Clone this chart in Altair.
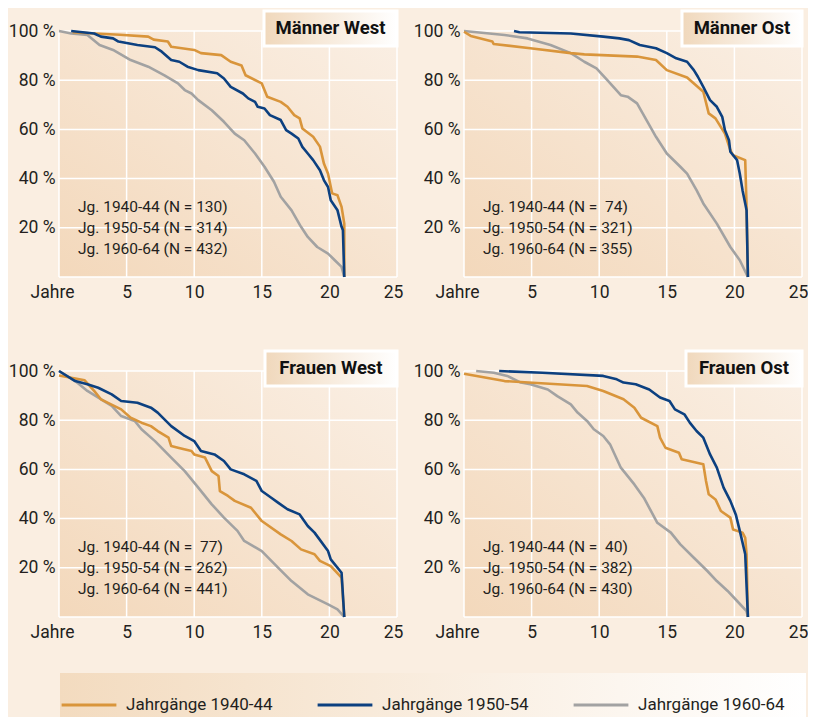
import altair as alt
import pandas as pd

# ---------------- data ----------------
cohorts = ["Jahrgänge 1940-44", "Jahrgänge 1950-54", "Jahrgänge 1960-64"]
colors = ["#D9953B", "#0C4080", "#A2A2A2"]

mw40_x = [1.0, 2.6, 4.5, 6.6, 7.0, 8.05, 8.3, 10.0, 10.5, 12.0, 12.7, 13.5, 13.8, 15.0, 15.4, 16.4, 16.9, 17.4, 17.8, 18.0, 18.8, 19.3, 19.6, 19.9, 20.2, 20.6, 20.9, 21.1, 21.1]
mw40_y = [99.5, 99.0, 98.5, 97.7, 96.5, 95.7, 93.6, 92.3, 91.0, 90.2, 87.5, 86.0, 82.0, 78.7, 73.3, 71.2, 69.2, 65.8, 64.5, 60.4, 57.0, 53.0, 46.0, 42.0, 34.0, 33.2, 28.5, 21.7, 0]
mw50_x = [0.9, 2.6, 3.1, 4.0, 4.4, 5.8, 7.1, 7.6, 8.3, 8.9, 9.5, 10.3, 11.7, 12.2, 12.7, 13.6, 14.0, 14.5, 14.7, 15.2, 15.6, 16.4, 16.8, 17.2, 17.7, 18.0, 18.4, 18.8, 19.3, 19.6, 19.9, 20.1, 20.6, 20.9, 21.0, 21.1]
mw50_y = [100, 99, 97.7, 97, 95.7, 94.3, 93.4, 91.6, 88.2, 87.5, 85.5, 84.1, 82.8, 80.7, 77.3, 74.6, 72.6, 71.2, 69.2, 68.5, 65.8, 63.8, 59.7, 58.3, 56.3, 52.9, 50.2, 47.5, 43.4, 39.3, 36.6, 31.2, 27.1, 20.4, 19.0, 0]
mw60_x = [0, 0.9, 2.1, 3.0, 4.0, 5.3, 6.6, 7.8, 8.8, 9.3, 9.8, 10.3, 11.3, 12.2, 13.0, 13.7, 14.5, 15.2, 15.9, 16.4, 17.2, 17.9, 18.4, 19.1, 19.9, 20.4, 20.9, 21.1]
mw60_y = [100, 99, 98.4, 94.3, 92.3, 88.2, 85.5, 82, 78.7, 76, 74.6, 71.9, 67.8, 63.1, 58.3, 55.6, 50.2, 44.8, 38.7, 32.6, 27.1, 20.4, 16.3, 12.2, 9.5, 6.8, 4.1, 0]

mo40_x = [0, 0.5, 2.1, 2.2, 4.9, 7.9, 8.9, 12.8, 14.2, 15.0, 16.5, 17.7, 18.1, 18.6, 19.3, 19.7, 19.9, 20.8, 20.9, 21.0]
mo40_y = [99.7, 98, 95.7, 94.7, 93, 91, 90.5, 89.6, 88.2, 84.1, 81.1, 75.3, 66.5, 64.5, 58.3, 51.6, 49.5, 47.5, 28.5, 0]
mo50_x = [3.7, 4.1, 7.9, 10.3, 11.5, 12.2, 13.0, 14.2, 15.0, 15.7, 16.5, 17.0, 17.3, 17.7, 18.2, 18.7, 19.1, 19.3, 19.6, 19.7, 20.2, 20.4, 20.6, 20.8, 20.9, 21.0]
mo50_y = [100, 99.5, 99, 97.7, 97, 96.3, 94.3, 93, 91, 88.9, 87.5, 84.1, 81.4, 77.3, 71.9, 69.2, 65.1, 59.7, 55.6, 50.9, 47.5, 42, 35.3, 29.9, 27.1, 0]
mo60_x = [0, 3.0, 4.7, 6.4, 7.9, 8.9, 9.8, 10.6, 11.6, 12.1, 12.8, 13.5, 14.2, 15.0, 16.0, 16.5, 17.2, 17.7, 18.7, 19.7, 20.4, 21.0]
mo60_y = [100, 98.4, 97, 94.3, 91, 87.5, 84.8, 80, 73.9, 73.3, 70.6, 63.8, 57, 50.2, 44.8, 42, 35.3, 29.9, 21.7, 12.2, 6.8, 0]

fw40_x = [0, 1.9, 2.6, 3.1, 4.6, 5.3, 6.1, 6.8, 7.3, 8.1, 8.3, 8.8, 9.8, 10.0, 10.8, 11.3, 11.8, 11.9, 12.5, 13.0, 14.2, 15.0, 16.4, 17.2, 17.9, 18.9, 19.3, 20.1, 20.9, 21.1]
fw40_y = [98.2, 96.2, 91.9, 88.5, 84.4, 81, 79, 77.6, 75.6, 72.9, 69.5, 68.8, 67.5, 66.1, 64.8, 59.3, 57.3, 51.2, 49.2, 47.2, 44.4, 39, 33.6, 30.9, 27.5, 25.5, 22.8, 20.7, 16, 0]
fw50_x = [0, 1.2, 2.1, 2.9, 3.9, 4.6, 5.8, 6.8, 7.3, 8.3, 9.3, 10.0, 10.5, 11.5, 12.2, 12.7, 13.7, 14.6, 15.0, 15.7, 16.2, 16.9, 17.8, 18.4, 18.9, 19.9, 20.1, 20.9, 21.1]
fw50_y = [100, 95.9, 94.6, 93.2, 90.5, 87.8, 87.1, 85.1, 83.1, 77.6, 73.6, 71.5, 67.5, 66.1, 63.4, 60, 58, 55.3, 51.2, 48.5, 46.5, 43.8, 41.7, 37, 34.3, 26.8, 23.4, 18, 0]
fw60_x = [0, 1.2, 2.1, 3.9, 4.6, 5.6, 6.1, 7.1, 8.3, 9.3, 10.3, 11.3, 12.2, 13.2, 13.7, 15.0, 16.2, 17.2, 18.4, 19.9, 20.6, 21.1]
fw60_y = [100, 95.9, 91.9, 85.8, 81.7, 79.7, 76.3, 71.5, 64.8, 59.3, 52.6, 45.8, 40.4, 35, 30.9, 26.8, 20.1, 14.6, 9.2, 5.1, 3.1, 0]

fo40_x = [0, 3.0, 9.1, 10.3, 11.8, 12.6, 13.1, 14.3, 14.5, 14.9, 15.9, 16.1, 17.7, 17.9, 18.1, 18.6, 19.0, 19.7, 19.9, 20.6, 20.8, 20.9, 21.0]
fo40_y = [98.9, 95.9, 93.9, 91.9, 88.5, 85.1, 81, 77.6, 72.9, 68.8, 66.8, 64.1, 62.1, 55.3, 49.9, 47.8, 43.1, 40.4, 35.6, 34.3, 32.2, 25.5, 0]
fo50_x = [2.6, 5.8, 10.3, 11.3, 11.8, 12.7, 13.7, 14.5, 15.2, 15.6, 16.3, 16.7, 17.2, 17.7, 18.2, 18.7, 19.2, 19.7, 20.1, 20.4, 20.8, 21.0]
fo50_y = [100, 99.3, 98, 96.6, 95.3, 94.6, 92.5, 89.2, 87.8, 84.4, 82.4, 79, 75.6, 72.9, 66.1, 60.7, 52.6, 47.2, 41.7, 35, 25.5, 0]
fo60_x = [0.9, 2.2, 3.2, 4.2, 4.9, 6.2, 6.9, 7.9, 8.4, 9.1, 9.6, 10.3, 10.8, 11.6, 12.6, 13.3, 14.3, 15.3, 16.0, 17.0, 18.0, 18.7, 19.5, 20.2, 20.9, 21.0]
fo60_y = [100, 99.3, 98, 95.3, 94.6, 92.5, 89.8, 86.4, 83.1, 79.7, 76.3, 73.6, 70.2, 60.7, 53.9, 48.5, 38.3, 34.3, 29.5, 24.1, 18.7, 14.6, 10.6, 6.5, 2.4, 0]

titles = ["Männer West", "Männer Ost", "Frauen West", "Frauen Ost"]
n_mw = ["130", "314", "432"]
n_mo = ["\u00a074", "321", "355"]
n_fw = ["\u00a077", "262", "441"]
n_fo = ["\u00a040", "382", "430"]
note_prefix = ["Jg. 1940-44", "Jg. 1950-54", "Jg. 1960-64"]

x_ticks = [0, 5, 10, 15, 20, 25]
y_ticks = [20, 40, 60, 80, 100]
grid_x = [0, 5, 10, 15, 20, 25]
grid_y = [0, 20, 40, 60, 80, 100]

# ---------------- styling ----------------
FONT = "Roboto, Liberation Sans, sans-serif"
TXT = "#231F20"
W, H = 338, 246

plot_grad = alt.LinearGradient(
    gradient="linear",
    stops=[alt.GradientStop(color="#F3D8BB", offset=0),
           alt.GradientStop(color="#FAEFE4", offset=1)],
    x1=0, y1=1, x2=1, y2=0)
box_grad = alt.LinearGradient(
    gradient="linear",
    stops=[alt.GradientStop(color="#F0D8BC", offset=0),
           alt.GradientStop(color="#FFFFFF", offset=1)],
    x1=0, y1=0, x2=1, y2=0)
leg_grad = alt.LinearGradient(
    gradient="linear",
    stops=[alt.GradientStop(color="#F3DBBF", offset=0),
           alt.GradientStop(color="#FFFFFF", offset=1)],
    x1=0, y1=0, x2=1, y2=0)

one = pd.DataFrame({"k": [0]})

color_enc = alt.Color(
    "kohorte:N",
    scale=alt.Scale(domain=cohorts, range=colors),
    legend=alt.Legend(
        title=None, orient="none", legendX=1, legendY=645,
        direction="horizontal", symbolType="stroke", symbolSize=3000,
        symbolStrokeWidth=3, labelFont=FONT, labelFontSize=17,
        labelColor=TXT, labelOffset=8, columnPadding=38, labelLimit=300),
)


def panel(series, title, ns, box_w, legend_bg=False):
    rows = []
    # draw grey first, then orange, then blue on top
    for ci in [2, 0, 1]:
        xs, ys = series[ci]
        for i, (xv, yv) in enumerate(zip(xs, ys)):
            rows.append({"jahre": xv, "anteil": yv, "kohorte": cohorts[ci], "i": i})
    df = pd.DataFrame(rows)

    xs = alt.Scale(domain=[0, 25], nice=False)
    ys = alt.Scale(domain=[0, 100], nice=False)

    layers = []
    if legend_bg:
        layers.append(alt.Chart(one).mark_rect(fill=leg_grad).encode(
            x=alt.value(1), x2=alt.value(747), y=alt.value(H + 56), y2=alt.value(H + 111)))

    bg = alt.Chart(one).mark_rect(fill=plot_grad).encode(
        x=alt.value(0), x2=alt.value(W), y=alt.value(0), y2=alt.value(H))

    gx = alt.Chart(pd.DataFrame({"g": grid_x})).mark_rule(
        color="white", strokeWidth=1.5).encode(x=alt.X("g:Q", scale=xs))
    gy = alt.Chart(pd.DataFrame({"g": grid_y})).mark_rule(
        color="white", strokeWidth=1.5).encode(y=alt.Y("g:Q", scale=ys))

    lines = alt.Chart(df).mark_line(strokeWidth=2.6, strokeJoin="round").encode(
        x=alt.X("jahre:Q", scale=xs,
                axis=alt.Axis(values=x_ticks, title=None, grid=False, domain=False,
                              ticks=False, labelFont=FONT, labelFontSize=17.5,
                              labelColor=TXT, labelPadding=6, labelFlush=False,
                              labelExpr="datum.value == 0 ? 'Jahre' : datum.value",
                              labelOffset={"condition": [
                                  {"test": "datum.value === 0", "value": -7},
                                  {"test": "datum.value === 25", "value": -4}],
                                  "value": 0})),
        y=alt.Y("anteil:Q", scale=ys,
                axis=alt.Axis(values=y_ticks, title=None, grid=False, domain=False,
                              ticks=False, labelFont=FONT, labelFontSize=17.5,
                              labelColor=TXT, labelPadding=4, labelFlush=False,
                              labelExpr="datum.value + ' %'")),
        color=color_enc,
        order=alt.Order("i:Q"),
        detail="kohorte:N",
    )

    note_text = "\n".join(f"{p} (N = {n})" for p, n in zip(note_prefix, ns))
    notes = alt.Chart(one).mark_text(
        text=note_text, lineBreak="\n", lineHeight=21, align="left",
        baseline="middle", font=FONT, fontSize=15.5, color=TXT).encode(
        x=alt.value(19), y=alt.value(176))

    box = alt.Chart(one).mark_rect(fill=box_grad, stroke="white", strokeWidth=3).encode(
        x=alt.value(W - box_w), x2=alt.value(W), y=alt.value(-20), y2=alt.value(15))
    ttl = alt.Chart(one).mark_text(
        text=title, font=FONT, fontSize=18.5, fontWeight="bold", color="#111111",
        align="center", baseline="middle").encode(
        x=alt.value(W - box_w / 2), y=alt.value(-3))

    layers += [bg, gx, gy, lines, notes, box, ttl]
    return alt.layer(*layers).properties(width=W, height=H)


p1 = panel([(mw40_x, mw40_y), (mw50_x, mw50_y), (mw60_x, mw60_y)], titles[0], n_mw, 133)
p2 = panel([(mo40_x, mo40_y), (mo50_x, mo50_y), (mo60_x, mo60_y)], titles[1], n_mo, 120)
p3 = panel([(fw40_x, fw40_y), (fw50_x, fw50_y), (fw60_x, fw60_y)], titles[2], n_fw, 132, legend_bg=True)
p4 = panel([(fo40_x, fo40_y), (fo50_x, fo50_y), (fo60_x, fo60_y)], titles[3], n_fo, 116)

chart = alt.concat(
    p1, p2, p3, p4, columns=2,
    spacing=alt.RowColnumber(row=94, column=67), bounds="flush",
).properties(
    padding={"left": 0, "top": 1, "right": 0, "bottom": -11},
    background="#FAEEE1",
).configure_view(stroke=None)

chart.save("out.html", embed_options={"renderer": "svg", "actions": False})
